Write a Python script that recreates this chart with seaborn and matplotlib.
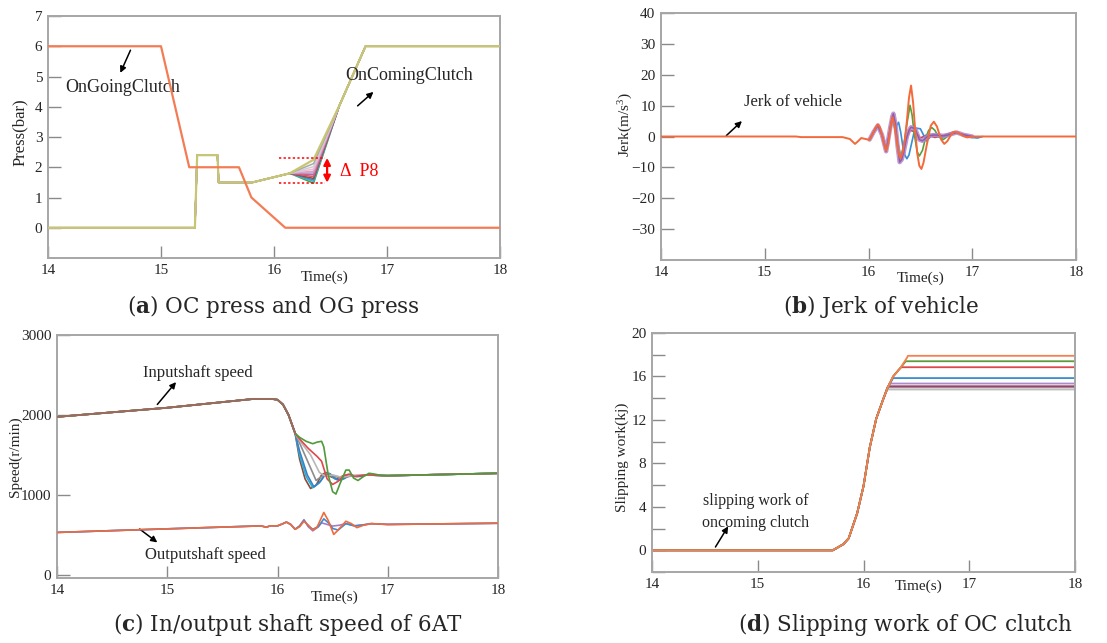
import numpy as np
import pandas as pd
import matplotlib
matplotlib.use("Agg")
import matplotlib.pyplot as plt
from matplotlib.ticker import MultipleLocator
import seaborn as sns

sns.set_style("white")
plt.rcParams["font.family"] = ["Liberation Serif", "DejaVu Serif"]
plt.rcParams["mathtext.fontset"] = "custom"
plt.rcParams["mathtext.rm"] = "Liberation Serif"
plt.rcParams["mathtext.it"] = "Liberation Serif:italic"
plt.rcParams["mathtext.bf"] = "DejaVu Serif:bold"

# ---------------- (a) clutch pressures ----------------
og_t = [14.0, 15.0, 15.25, 15.69, 15.80, 16.10, 18.0]
og_p = [6.0, 6.0, 2.0, 2.0, 1.0, 0.0, 0.0]

oc_t_head = [14.0, 15.30, 15.32, 15.50, 15.51, 15.81, 16.14]
oc_p_head = [0.0, 0.0, 2.4, 2.4, 1.5, 1.5, 1.8]
oc_t_dip = 16.35
oc_dip = [2.25, 2.12, 2.02, 1.94, 1.87, 1.81, 1.75, 1.69, 1.63, 1.58, 1.53, 1.47]
oc_dip_colors = ["#C6C673", "#A8A8A8", "#CFCFCF", "#EDBBD5", "#DDA0C4", "#B690CC",
                 "#C2629E", "#DA5A55", "#8E4C3C", "#4A86C8", "#3DB6D6", "#4E9A3A"]
oc_t_tail = [16.58, 16.81, 18.0]
oc_p_tail = [4.05, 6.0, 6.0]

# ---------------- (b) vehicle jerk ----------------
jerk_orange_t = [14.0, 15.3, 15.35, 15.75, 15.82, 15.87, 15.90, 15.93, 15.97, 16.01, 16.04,
                 16.07, 16.09, 16.11, 16.13, 16.15, 16.17, 16.19, 16.21, 16.23, 16.25, 16.27,
                 16.29, 16.31, 16.33, 16.35, 16.37, 16.39, 16.41, 16.43, 16.45, 16.47, 16.49,
                 16.51, 16.53, 16.56, 16.60, 16.63, 16.66, 16.70, 16.73, 16.76, 16.80, 16.83,
                 16.87, 16.91, 16.95, 17.0, 18.0]
jerk_orange_v = [0.0, 0.0, -0.2, -0.2, -0.8, -2.4, -1.5, -0.5, -0.8, -1.1, 0.8,
                 3.0, 3.9, 3.0, 0.5, -2.5, -4.6, -2.5, 2.5, 6.3, 4.0, -1.0,
                 -5.5, -7.0, -5.0, -1.0, 5.0, 12.5, 16.5, 11.0, 2.0, -5.5, -9.5,
                 -10.5, -8.5, -3.0, 3.5, 4.8, 3.2, -1.0, -2.4, -1.5, 0.8, 1.6,
                 1.2, 0.2, -0.3, 0.0, 0.0]
jerk_green_t = [16.01, 16.05, 16.09, 16.13, 16.17, 16.20, 16.23, 16.27, 16.31, 16.34,
                16.37, 16.40, 16.42, 16.44, 16.47, 16.49, 16.52, 16.55, 16.58, 16.61,
                16.64, 16.67, 16.72, 16.78, 16.84, 16.90, 16.98]
jerk_green_v = [-1.1, 1.5, 3.6, 0.5, -4.3, 0.5, 6.0, 0.0, -6.5, -3.0,
                4.0, 10.1, 7.0, 1.0, -5.0, -6.3, -4.5, -0.5, 2.0, 2.9,
                2.0, 0.2, -1.0, 0.5, 1.5, 0.5, 0.0]
jerk_blue_t = [16.01, 16.05, 16.09, 16.13, 16.17, 16.20, 16.23, 16.26, 16.29, 16.31,
               16.33, 16.35, 16.37, 16.39, 16.41, 16.44, 16.46, 16.50, 16.53, 16.56,
               16.62, 16.70, 16.76, 16.84, 16.92, 17.00, 17.05, 17.10]
jerk_blue_v = [-1.0, 1.5, 3.5, 0.5, -4.0, 0.5, 5.0, 3.0, 4.6, 1.5,
               -3.0, -6.0, -7.2, -6.0, -3.0, 1.5, 2.7, 2.5, 0.5, -1.5,
               0.8, -0.5, 0.5, 1.2, 0.5, -0.3, -0.5, 0.0]
jerk_purple_t = [16.01, 16.05, 16.09, 16.13, 16.17, 16.19, 16.21, 16.23, 16.24, 16.26,
                 16.28, 16.30, 16.32, 16.34, 16.37, 16.39, 16.41, 16.45, 16.49, 16.52,
                 16.58, 16.65, 16.72, 16.78, 16.85, 16.92, 17.0]
jerk_purple_v = [-1.0, 1.5, 3.6, 0.5, -4.8, -1.0, 3.0, 6.5, 7.4, 4.0,
                 -3.0, -8.3, -7.5, -5.0, 0.0, 2.0, 3.0, 2.5, -1.0, -1.4,
                 0.3, 0.5, 0.2, 0.6, 1.3, 0.5, 0.0]
jerk_red_t = [16.01, 16.05, 16.09, 16.13, 16.17, 16.20, 16.22, 16.24, 16.26, 16.28,
              16.31, 16.33, 16.35, 16.40, 16.45, 16.50, 16.56, 16.64, 16.72, 16.82,
              16.90, 17.0]
jerk_red_v = [-1.0, 1.5, 3.8, 0.5, -4.8, 0.5, 5.0, 6.5, 4.0, -2.0,
              -7.5, -5.5, -2.0, 2.0, 1.5, -0.5, 0.5, -0.3, 0.3, 1.5,
              0.8, 0.0]

# ---------------- (c) shaft speeds ----------------
in_t_head = [14.0, 15.0, 15.78, 15.95, 16.00, 16.05, 16.10, 16.16]
in_v_head = [1976, 2090, 2200, 2200, 2190, 2130, 2000, 1770]
in_runs = {
    "brown": ([16.20, 16.25, 16.30, 16.35, 16.40, 16.44, 16.48, 16.53, 16.60, 16.66, 16.72, 16.80, 16.90, 17.0, 18.0],
              [1450, 1200, 1080, 1120, 1250, 1280, 1230, 1200, 1240, 1250, 1230, 1250, 1245, 1240, 1270]),
    "cyan": ([16.20, 16.26, 16.32, 16.38, 16.43, 16.47, 16.52, 16.57, 16.64, 16.72, 16.80, 17.0, 18.0],
             [1500, 1230, 1090, 1150, 1260, 1270, 1200, 1180, 1240, 1230, 1250, 1240, 1270]),
    "blue": ([16.20, 16.27, 16.33, 16.39, 16.44, 16.48, 16.54, 16.60, 16.66, 16.74, 16.82, 17.0, 18.0],
             [1550, 1250, 1100, 1170, 1265, 1260, 1190, 1200, 1245, 1230, 1250, 1240, 1270]),
    "grey": ([16.20, 16.28, 16.35, 16.40, 16.45, 16.52, 16.60, 16.70, 16.80, 17.0, 18.0],
             [1650, 1400, 1180, 1230, 1270, 1230, 1220, 1240, 1250, 1240, 1270]),
    "lightgrey": ([16.20, 16.30, 16.38, 16.44, 16.50, 16.58, 16.66, 16.76, 17.0, 18.0],
                  [1680, 1500, 1280, 1230, 1250, 1220, 1240, 1250, 1240, 1270]),
    "red": ([16.20, 16.28, 16.36, 16.40, 16.45, 16.50, 16.55, 16.60, 16.65, 16.70, 16.80, 17.0, 18.0],
            [1700, 1580, 1480, 1420, 1200, 1130, 1170, 1240, 1260, 1230, 1250, 1240, 1270]),
    "green": ([16.20, 16.26, 16.32, 16.36, 16.40, 16.42, 16.46, 16.50, 16.53, 16.57, 16.62, 16.65,
               16.69, 16.73, 16.78, 16.83, 16.88, 16.95, 17.0, 18.0],
              [1720, 1670, 1640, 1660, 1670, 1600, 1250, 1040, 1010, 1150, 1310, 1310,
               1210, 1180, 1230, 1270, 1260, 1240, 1240, 1270]),
}
in_colors = {"brown": "#8E4A3A", "cyan": "#22B2D8", "blue": "#3C7FC4", "grey": "#8C8C8C",
             "lightgrey": "#B8B8B8", "red": "#E0474C", "green": "#4F9A3A"}

out_t_head = [14.0, 15.0, 15.85, 15.90, 15.93, 16.00]
out_v_head = [530, 575, 612, 595, 612, 612]
out_runs = {
    "purple": ([16.05, 16.08, 16.12, 16.16, 16.20, 16.24, 16.28, 16.32, 16.36, 16.40, 16.45,
                16.50, 16.56, 16.62, 16.70, 16.78, 16.85, 17.0, 18.0],
               [640, 660, 630, 570, 610, 690, 600, 550, 590, 650, 630,
                610, 620, 640, 615, 625, 640, 630, 645]),
    "blue": ([16.05, 16.08, 16.12, 16.16, 16.20, 16.24, 16.28, 16.32, 16.37, 16.42, 16.47,
              16.50, 16.55, 16.62, 16.70, 16.78, 16.85, 17.0, 18.0],
             [640, 660, 630, 570, 610, 680, 610, 570, 600, 700, 640,
              580, 560, 640, 610, 625, 640, 630, 645]),
    "orange": ([16.05, 16.08, 16.12, 16.16, 16.20, 16.24, 16.28, 16.32, 16.36, 16.42, 16.46,
                16.51, 16.55, 16.62, 16.67, 16.72, 16.78, 16.85, 17.0, 18.0],
               [640, 660, 630, 570, 600, 670, 620, 560, 600, 780, 680,
                505, 560, 670, 640, 590, 620, 640, 630, 645]),
}
out_colors = {"purple": "#A57CC8", "blue": "#3C8CD0", "orange": "#F06A3C"}

# ---------------- (d) slipping work ----------------
sw_t = [14.0, 15.71, 15.81, 15.86, 15.94, 16.00, 16.06, 16.12, 16.19, 16.23, 16.28, 16.35, 16.41]
sw_v = [0.0, 0.0, 0.56, 1.1, 3.4, 5.9, 9.5, 12.1, 14.0, 15.0, 16.0, 16.8, 17.7]
sw_break_t = [16.22, 16.225, 16.235, 16.245, 16.28, 16.36, 16.40, 16.42]
sw_final = [14.8, 15.0, 15.1, 15.35, 15.85, 16.85, 17.4, 17.9]
sw_colors = ["#BDBDBD", "#9A9A9A", "#A0406A", "#A98BD0", "#3C8CD0", "#E0474C", "#5E9A3A", "#F6804E"]

# ---------------- figure ----------------
fig = plt.figure(figsize=(11.07, 6.43), dpi=100)
ax_a = fig.add_axes([48 / 1107, 1 - 258 / 643, 452 / 1107, 242 / 643])
ax_b = fig.add_axes([661 / 1107, 1 - 260 / 643, 415 / 1107, 247 / 643])
ax_c = fig.add_axes([57 / 1107, 1 - 578 / 643, 441 / 1107, 243 / 643])
ax_d = fig.add_axes([652 / 1107, 1 - 572 / 643, 423 / 1107, 239 / 643])

SPINE = "#A6A6A6"
TICKFS = 11


def style_axes(ax, xlab_pos, ylab_pos):
    for s in ax.spines.values():
        s.set_color(SPINE)
        s.set_linewidth(1.4)
    ax.tick_params(which="both", direction="in", length=9, width=1.0, color="#8A8A8A",
                   labelsize=TICKFS, top=False, right=False, bottom=True, left=True, pad=4)
    ax.set_xlim(14, 18)
    ax.set_xticks([14, 15, 16, 17, 18])
    ax.set_xlabel("Time(s)", fontsize=11)
    ax.xaxis.set_label_coords(*xlab_pos)
    ax.yaxis.set_label_coords(*ylab_pos)


def draw(ax, t, v, color, lw=1.3, alpha=1.0, z=2):
    sns.lineplot(x=t, y=v, ax=ax, color=color, lw=lw, alpha=alpha, sort=False,
                 estimator=None, legend=False, zorder=z)


arrow_kw = dict(arrowstyle="-|>", color="black", lw=1.1, mutation_scale=9, shrinkA=0, shrinkB=0)

# (a)
for i in range(len(oc_dip) - 1, -1, -1):
    t = oc_t_head + [oc_t_dip] + oc_t_tail
    p = oc_p_head + [oc_dip[i]] + oc_p_tail
    draw(ax_a, t, p, oc_dip_colors[i], lw=1.6 if i == 0 else 1.1, z=3 if i == 0 else 2)
draw(ax_a, og_t, og_p, "#F47C55", lw=1.6, z=4)
ax_a.set_ylim(-1, 7)
ax_a.set_yticks(range(0, 8))
ax_a.set_ylabel("Press(bar)", fontsize=12)
style_axes(ax_a, (0.6125, -0.05), (-0.045, 0.52))
ax_a.hlines([2.31, 1.49], 16.04, 16.45, colors="red", linestyles=(0, (1.5, 1.5)), lw=1.1, zorder=5)
ax_a.annotate("", xy=(16.47, 2.31), xytext=(16.47, 1.49),
              arrowprops=dict(arrowstyle="<|-|>", color="red", lw=1.6, mutation_scale=10,
                              shrinkA=0, shrinkB=0), zorder=5)
ax_a.text(16.58, 1.86, "Δ  P8", color="red", fontsize=13, va="center", ha="left")
ax_a.text(14.15, 4.65, "OnGoingClutch", fontsize=13, va="center", ha="left")
ax_a.annotate("", xy=(14.64, 5.12), xytext=(14.73, 5.87), arrowprops=arrow_kw)
ax_a.text(16.63, 5.02, "OnComingClutch", fontsize=13, va="center", ha="left")
ax_a.annotate("", xy=(16.88, 4.49), xytext=(16.74, 4.03), arrowprops=arrow_kw)

# (b)
draw(ax_b, jerk_red_t, jerk_red_v, "#E03A32", lw=1.2)
draw(ax_b, jerk_blue_t, jerk_blue_v, "#3A8ED6", lw=1.2)
draw(ax_b, jerk_green_t, jerk_green_v, "#55A23A", lw=1.2)
draw(ax_b, jerk_purple_t, jerk_purple_v, "#B487C8", lw=3.2, alpha=0.85)
draw(ax_b, jerk_purple_t, jerk_purple_v, "#8E5AAE", lw=1.0)
draw(ax_b, jerk_orange_t, jerk_orange_v, "#F4693A", lw=1.4, z=4)
ax_b.set_ylim(-40, 40)
ax_b.set_yticks(range(-30, 50, 10))
ax_b.set_ylabel("Jerk(m/s$^3$)", fontsize=11)
style_axes(ax_b, (0.625, -0.045), (-0.062, 0.55))
ax_b.text(14.80, 11.2, "Jerk of vehicle", fontsize=12, va="center", ha="left")
ax_b.annotate("", xy=(14.78, 5.0), xytext=(14.63, 0.3), arrowprops=arrow_kw)

# (c)
for name, (t, v) in in_runs.items():
    draw(ax_c, in_t_head + t, in_v_head + v, in_colors[name], lw=1.2)
draw(ax_c, in_t_head, in_v_head, "#9C6A5E", lw=1.4, z=3)
for name, (t, v) in out_runs.items():
    draw(ax_c, out_t_head + t, out_v_head + v, out_colors[name], lw=1.2,
         z=4 if name == "orange" else 2)
ax_c.set_ylim(-40, 3000)
ax_c.set_yticks([0, 1000, 2000, 3000])
ax_c.set_ylabel("Speed(r/min)", fontsize=11)
style_axes(ax_c, (0.63, -0.053), (-0.08, 0.5))
ax_c.text(14.78, 2528, "Inputshaft speed", fontsize=12, va="center", ha="left")
ax_c.annotate("", xy=(15.08, 2411), xytext=(14.91, 2131), arrowprops=arrow_kw)
ax_c.text(14.80, 251, "Outputshaft speed", fontsize=12, va="center", ha="left")
ax_c.annotate("", xy=(14.91, 405), xytext=(14.75, 572), arrowprops=arrow_kw)

# (d)
for tb, fv, col in zip(sw_break_t, sw_final, sw_colors):
    t = [x for x in sw_t if x < tb] + [tb, 18.0]
    v = [y for x, y in zip(sw_t, sw_v) if x < tb] + [fv, fv]
    draw(ax_d, t, v, col, lw=1.3)
ax_d.set_ylim(-2, 20)
ax_d.yaxis.set_major_locator(MultipleLocator(4))
ax_d.yaxis.set_minor_locator(MultipleLocator(2))
ax_d.set_ylabel("Slipping work(kj)", fontsize=11)
style_axes(ax_d, (0.63, -0.033), (-0.054, 0.48))
ax_d.text(14.98, 3.5, "slipping work of\noncoming clutch", fontsize=11.5, va="center",
          ha="center", linespacing=1.5)
ax_d.annotate("", xy=(14.72, 2.2), xytext=(14.60, 0.3), arrowprops=arrow_kw)

# captions
cap_kw = dict(fontsize=15.5, ha="center", va="center", family="DejaVu Serif")
fig.text(273 / 1107, 1 - 306 / 643, r"($\mathbf{a}$) OC press and OG press", **cap_kw)
fig.text(881 / 1107, 1 - 306 / 643, r"($\mathbf{b}$) Jerk of vehicle", **cap_kw)
fig.text(288 / 1107, 1 - 625 / 643, r"($\mathbf{c}$) In/output shaft speed of 6AT", **cap_kw)
fig.text(905 / 1107, 1 - 625 / 643, r"($\mathbf{d}$) Slipping work of OC clutch", **cap_kw)

fig.savefig("out.png", dpi=100)
